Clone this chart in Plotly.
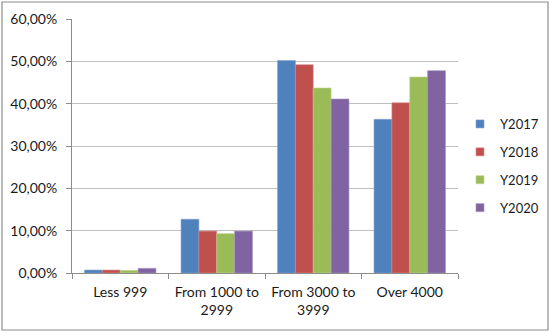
import plotly.graph_objects as go

# Share of cases per income band, by year
categories = ["Less 999", "From 1000 to<br>2999", "From 3000 to<br>3999", "Over 4000"]
y2017 = [0.007, 0.127, 0.502, 0.363]
y2018 = [0.007, 0.099, 0.492, 0.402]
y2019 = [0.006, 0.093, 0.437, 0.463]
y2020 = [0.011, 0.099, 0.411, 0.478]
series_names = ["Y2017", "Y2018", "Y2019", "Y2020"]
y_ticks = [0, 0.1, 0.2, 0.3, 0.4, 0.5, 0.6]

colors = ["#4F81BD", "#C0504D", "#9BBB59", "#8064A2"]
edges = ["#7FA3D1", "#D98A88", "#BCD48E", "#A692C0"]

fig = go.Figure()
for name, vals, c, e in zip(series_names, [y2017, y2018, y2019, y2020], colors, edges):
    fig.add_trace(go.Bar(
        x=categories, y=vals, name=name, legendgroup=name, showlegend=False,
        marker=dict(color=c, line=dict(color=e, width=0.6)),
    ))
# small square legend keys
for name, c, e in zip(series_names, colors, edges):
    fig.add_trace(go.Scatter(
        x=[None], y=[None], mode="markers", name=name, legendgroup=name,
        marker=dict(symbol="square", size=8, color=c, line=dict(color=e, width=0.6)),
    ))

L, R, T, B = 72, 458, 19, 273
W, H = 550, 332
pw, ph = R - L, B - T

fig.update_layout(
    width=W, height=H,
    margin=dict(l=L, r=W - R, t=T, b=H - B, pad=0, autoexpand=False),
    paper_bgcolor="white", plot_bgcolor="white",
    barmode="group", bargap=0.26, bargroupgap=0,
    separators=", ",
    font=dict(family="Lato, Open Sans, sans-serif", size=14, color="#1a1a1a"),
    showlegend=True,
    legend=dict(
        x=(460 - L) / pw, xanchor="left",
        y=(B - 166) / ph, yanchor="middle",
        traceorder="grouped", tracegroupgap=8,
        font=dict(size=13), itemwidth=30,
        bgcolor="rgba(0,0,0,0)",
    ),
    xaxis=dict(
        type="category", tickson="boundaries", ticks="outside", ticklen=5,
        tickcolor="#8c8c8c", showline=True, linecolor="#8c8c8c", linewidth=1,
        showgrid=False, tickfont=dict(size=14), ticklabelstandoff=6,
        tickangle=0, automargin=False,
    ),
    yaxis=dict(
        range=[0, 0.6], tickvals=y_ticks, tickformat=".2%",
        ticks="outside", ticklen=5, tickcolor="#8c8c8c",
        showline=True, linecolor="#8c8c8c", linewidth=1,
        showgrid=True, gridcolor="#bfbfbf", gridwidth=1,
        zeroline=False, tickfont=dict(size=14), ticklabelstandoff=6,
        automargin=False,
    ),
    shapes=[dict(
        type="rect", xref="paper", yref="paper",
        x0=(2 - L) / pw, x1=(548 - L) / pw,
        y0=(B - 330) / ph, y1=(B - 2) / ph,
        line=dict(color="#8c8c8c", width=1.2), layer="below",
    )],
)

fig.write_html("out.html")
